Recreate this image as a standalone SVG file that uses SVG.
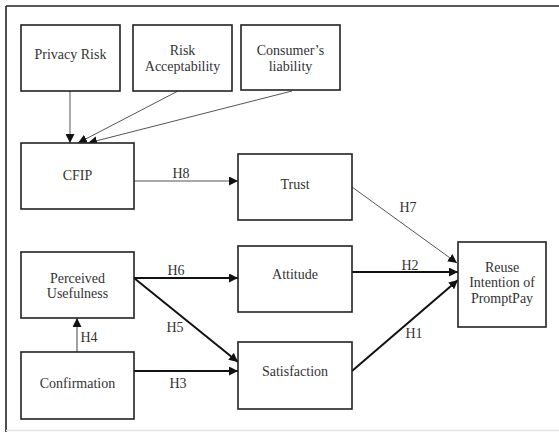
<svg xmlns="http://www.w3.org/2000/svg" width="559" height="432" viewBox="0 0 559 432">
<defs>
<style>
.box{fill:#fff;stroke:#222;stroke-width:1.6}
.t{font-family:"Liberation Serif","Times New Roman",serif;font-size:14px;fill:#333;text-anchor:middle}
.thin{stroke:#555;stroke-width:1;fill:none}
.thick{stroke:#111;stroke-width:2;fill:none}
.gray{stroke:#888;stroke-width:1.6;fill:none}
</style>
<marker id="ah" viewBox="0 0 10 10" refX="10" refY="5" markerWidth="9" markerHeight="9" markerUnits="userSpaceOnUse" orient="auto"><path d="M0,0L10,5L0,10z" fill="#111"/></marker>
</defs>
<rect width="559" height="432" fill="#fff"/>
<g id="frame">
<line x1="6" y1="6" x2="559" y2="6" stroke="#222" stroke-width="1.6"/>
<line x1="6" y1="6" x2="6" y2="432" stroke="#222" stroke-width="1.6"/>
<line x1="6" y1="430.5" x2="559" y2="430.5" stroke="#e2e2e2" stroke-width="1.5"/>
</g>
<g id="connectors">
<line class="thin" x1="70" y1="91" x2="70" y2="143" marker-end="url(#ah)"/>
<line class="thin" x1="178" y1="91" x2="78" y2="143" marker-end="url(#ah)"/>
<line class="thin" x1="292" y1="91" x2="88" y2="143" marker-end="url(#ah)"/>
<line class="thin" x1="134" y1="181" x2="238" y2="181" marker-end="url(#ah)"/>
<line class="thin" x1="352" y1="187" x2="457" y2="263" marker-end="url(#ah)"/>
<line class="thick" x1="134" y1="278" x2="238" y2="278" marker-end="url(#ah)"/>
<line class="thick" x1="134" y1="278" x2="238" y2="362" marker-end="url(#ah)"/>
<line class="gray" x1="77" y1="352" x2="77" y2="318" marker-end="url(#ah)"/>
<line class="thick" x1="134" y1="371" x2="238" y2="371" marker-end="url(#ah)"/>
<line class="thick" x1="352" y1="272" x2="458" y2="272" marker-end="url(#ah)"/>
<line class="thick" x1="352" y1="371" x2="458" y2="280" marker-end="url(#ah)"/>
<text class="t" x="181" y="178">H8</text>
<text class="t" x="408" y="212">H7</text>
<text class="t" x="176" y="275">H6</text>
<text class="t" x="175" y="332">H5</text>
<text class="t" x="89" y="342">H4</text>
<text class="t" x="178" y="388">H3</text>
<text class="t" x="410" y="270">H2</text>
<text class="t" x="414" y="338">H1</text>
</g>
<g id="privacy-risk"><rect class="box" x="21" y="25" width="99" height="66"/><text class="t" x="70.5" y="59">Privacy Risk</text></g>
<g id="risk-acceptability"><rect class="box" x="133" y="25" width="99" height="66"/><text class="t" x="182.5" y="55">Risk</text><text class="t" x="182.5" y="71">Acceptability</text></g>
<g id="consumers-liability"><rect class="box" x="241" y="25" width="99" height="65"/><text class="t" x="290.5" y="55">Consumer’s</text><text class="t" x="290.5" y="71">liability</text></g>
<g id="cfip"><rect class="box" x="21" y="143" width="113" height="66"/><text class="t" x="77.5" y="180">CFIP</text></g>
<g id="trust"><rect class="box" x="238" y="154" width="114" height="66"/><text class="t" x="295" y="189">Trust</text></g>
<g id="perceived-usefulness"><rect class="box" x="21" y="252" width="113" height="66"/><text class="t" x="77.5" y="283">Perceived</text><text class="t" x="77.5" y="298">Usefulness</text></g>
<g id="attitude"><rect class="box" x="238" y="246" width="114" height="66"/><text class="t" x="295" y="279">Attitude</text></g>
<g id="confirmation"><rect class="box" x="21" y="352" width="113" height="67"/><text class="t" x="77.5" y="388">Confirmation</text></g>
<g id="satisfaction"><rect class="box" x="238" y="342" width="114" height="67"/><text class="t" x="295" y="376">Satisfaction</text></g>
<g id="reuse-intention"><rect class="box" x="458" y="242" width="88" height="85"/><text class="t" x="502" y="272">Reuse</text><text class="t" x="502" y="287">Intention of</text><text class="t" x="502" y="303">PromptPay</text></g>
</svg>
